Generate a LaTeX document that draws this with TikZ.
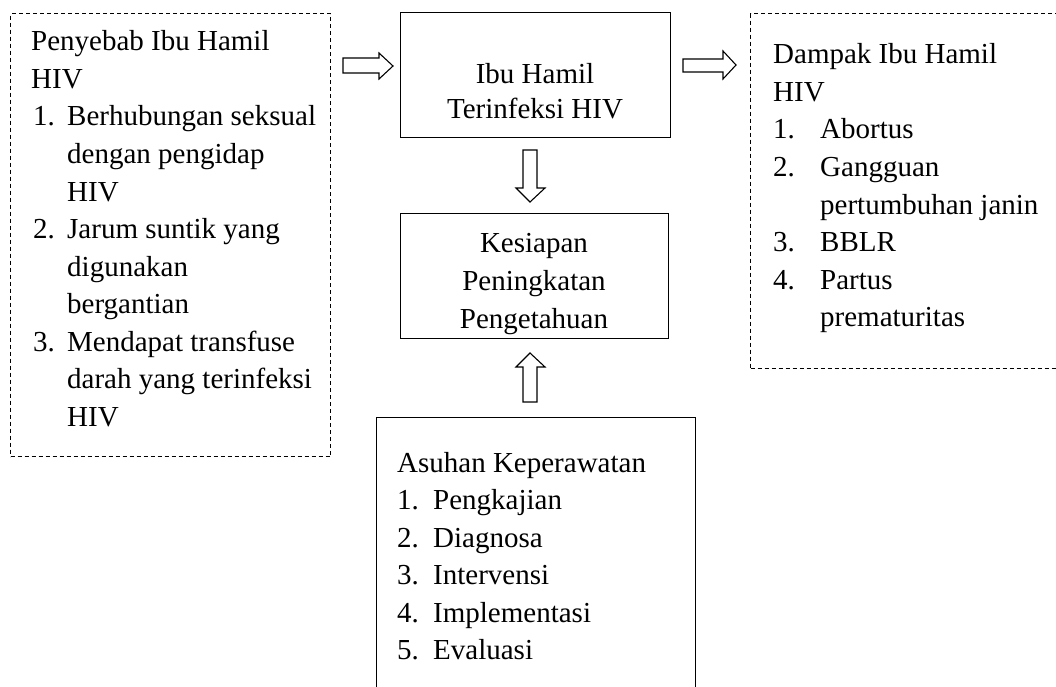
\documentclass[tikz,border=0pt]{standalone}
\usepackage{fontspec}
\setmainfont{Liberation Serif}
\begin{document}
\begin{tikzpicture}[x=1pt,y=-1pt,
  font=\fontsize{29}{37.5}\selectfont,
  dbox/.style={draw, line width=1.1pt, dash pattern=on 4pt off 3pt, inner sep=0pt, anchor=north west},
  sbox/.style={draw, line width=1.3pt, inner sep=0pt, anchor=north west},
  ln/.style={anchor=base west, inner sep=0pt},
  lc/.style={anchor=base, inner sep=0pt},
  barrow/.style={draw, line width=1.1pt, fill=white, line join=miter}]
\useasboundingbox (0,0) rectangle (1056,687);
% boxes
\node[dbox, minimum width=320pt, minimum height=443pt] (cause) at (10,13) {};
\node[sbox, minimum width=270pt, minimum height=125pt] (hiv) at (400,12) {};
\node[dbox, minimum width=330pt, minimum height=355pt] (impact) at (750,13) {};
\node[sbox, minimum width=268pt, minimum height=125pt] (ready) at (400,213) {};
\node[sbox, minimum width=319pt, minimum height=300pt] (care) at (376,417) {};
% block arrows
\draw[barrow] (343,58) -- (379,58) -- (379,53) -- (393,66) -- (379,79) -- (379,73) -- (343,73) -- cycle;
\draw[barrow] (683,59) -- (723,59) -- (723,51) -- (736,65) -- (723,79) -- (723,72) -- (683,72) -- cycle;
\draw[barrow] (523,150) -- (537,150) -- (537,188) -- (545,188) -- (530,202) -- (516,188) -- (523,188) -- cycle;
\draw[barrow] (523,402) -- (537,402) -- (537,367) -- (545,367) -- (530,353) -- (516,367) -- (523,367) -- cycle;
% left texts
\node[ln] (c1) at (31,51) {Penyebab Ibu Hamil};
\node[ln] (c2) at (31,88.5) {HIV};
\node[ln] (c3n) at (33,126) {1.};
\node[ln] (c3) at (67,126) {Berhubungan seksual};
\node[ln] (c4) at (67,163.5) {dengan pengidap};
\node[ln] (c5) at (67,201) {HIV};
\node[ln] (c6n) at (33,238.5) {2.};
\node[ln] (c6) at (67,238.5) {Jarum suntik yang};
\node[ln] (c7) at (67,276) {digunakan};
\node[ln] (c8) at (67,313.5) {bergantian};
\node[ln] (c9n) at (33,351) {3.};
\node[ln] (c9) at (67,351) {Mendapat transfuse};
\node[ln] (c10) at (67,388.5) {darah yang terinfeksi};
\node[ln] (c11) at (67,426) {HIV};
% top center
\node[lc] (h1) at (535,84) {Ibu Hamil};
\node[lc] (h2) at (535,119) {Terinfeksi HIV};
% right texts
\node[ln] (d1) at (773,64) {Dampak Ibu Hamil};
\node[ln] (d2) at (773,101.5) {HIV};
\node[ln] (d3n) at (773,139) {1.};
\node[ln] (d3) at (820,139) {Abortus};
\node[ln] (d4n) at (773,176.5) {2.};
\node[ln] (d4) at (820,176.5) {Gangguan};
\node[ln] (d5) at (820,214) {pertumbuhan janin};
\node[ln] (d6n) at (773,251.5) {3.};
\node[ln] (d6) at (820,251.5) {BBLR};
\node[ln] (d7n) at (773,289) {4.};
\node[ln] (d7) at (820,289) {Partus};
\node[ln] (d8) at (820,326.5) {prematuritas};
% middle
\node[lc] (k1) at (534,252) {Kesiapan};
\node[lc] (k2) at (534,290) {Peningkatan};
\node[lc] (k3) at (534,328) {Pengetahuan};
% bottom
\node[ln] (a0) at (397,472) {Asuhan Keperawatan};
\node[ln] (a1n) at (397,509.5) {1.};
\node[ln] (a1) at (433,509.5) {Pengkajian};
\node[ln] (a2n) at (397,547) {2.};
\node[ln] (a2) at (433,547) {Diagnosa};
\node[ln] (a3n) at (397,584.5) {3.};
\node[ln] (a3) at (433,584.5) {Intervensi};
\node[ln] (a4n) at (397,622) {4.};
\node[ln] (a4) at (433,622) {Implementasi};
\node[ln] (a5n) at (397,659.5) {5.};
\node[ln] (a5) at (433,659.5) {Evaluasi};
\end{tikzpicture}
\end{document}
